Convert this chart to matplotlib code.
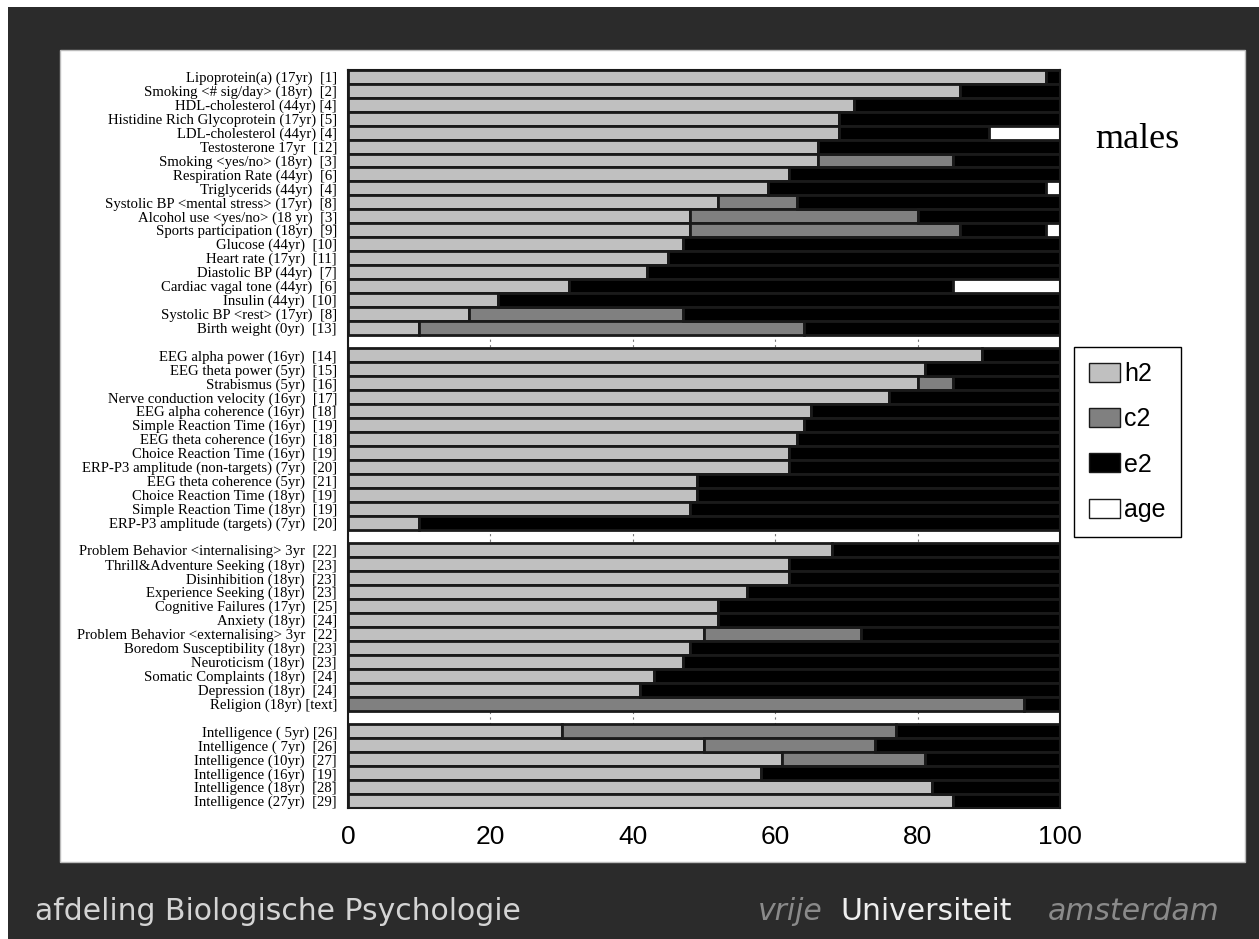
import matplotlib
matplotlib.use("Agg")
import matplotlib.pyplot as plt
from matplotlib.patches import Rectangle
import numpy as np

# ---------------- data ----------------
group1_labels = [
    "Lipoprotein(a) (17yr)  [1]", "Smoking <# sig/day> (18yr)  [2]", "HDL-cholesterol (44yr) [4]",
    "Histidine Rich Glycoprotein (17yr) [5]", "LDL-cholesterol (44yr) [4]", "Testosterone 17yr  [12]",
    "Smoking <yes/no> (18yr)  [3]", "Respiration Rate (44yr)  [6]", "Triglycerids (44yr)  [4]",
    "Systolic BP <mental stress> (17yr)  [8]", "Alcohol use <yes/no> (18 yr)  [3]",
    "Sports participation (18yr)  [9]", "Glucose (44yr)  [10]", "Heart rate (17yr)  [11]",
    "Diastolic BP (44yr)  [7]", "Cardiac vagal tone (44yr)  [6]", "Insulin (44yr)  [10]",
    "Systolic BP <rest> (17yr)  [8]", "Birth weight (0yr)  [13]",
]
group1_h2 = [98, 86, 71, 69, 69, 66, 66, 62, 59, 52, 48, 48, 47, 45, 42, 31, 21, 17, 10]
group1_c2 = [0, 0, 0, 0, 0, 0, 19, 0, 0, 11, 32, 38, 0, 0, 0, 0, 0, 30, 54]
group1_age = [0, 0, 0, 0, 10, 0, 0, 0, 2, 0, 0, 2, 0, 0, 0, 15, 0, 0, 0]

group2_labels = [
    "EEG alpha power (16yr)  [14]", "EEG theta power (5yr)  [15]", "Strabismus (5yr)  [16]",
    "Nerve conduction velocity (16yr)  [17]", "EEG alpha coherence (16yr)  [18]",
    "Simple Reaction Time (16yr)  [19]", "EEG theta coherence (16yr)  [18]",
    "Choice Reaction Time (16yr)  [19]", "ERP-P3 amplitude (non-targets) (7yr)  [20]",
    "EEG theta coherence (5yr)  [21]", "Choice Reaction Time (18yr)  [19]",
    "Simple Reaction Time (18yr)  [19]", "ERP-P3 amplitude (targets) (7yr)  [20]",
]
group2_h2 = [89, 81, 80, 76, 65, 64, 63, 62, 62, 49, 49, 48, 10]
group2_c2 = [0, 0, 5, 0, 0, 0, 0, 0, 0, 0, 0, 0, 0]
group2_age = [0] * 13

group3_labels = [
    "Problem Behavior <internalising> 3yr  [22]", "Thrill&Adventure Seeking (18yr)  [23]",
    "Disinhibition (18yr)  [23]", "Experience Seeking (18yr)  [23]",
    "Cognitive Failures (17yr)  [25]", "Anxiety (18yr)  [24]",
    "Problem Behavior <externalising> 3yr  [22]", "Boredom Susceptibility (18yr)  [23]",
    "Neuroticism (18yr)  [23]", "Somatic Complaints (18yr)  [24]",
    "Depression (18yr)  [24]", "Religion (18yr) [text]",
]
group3_h2 = [68, 62, 62, 56, 52, 52, 50, 48, 47, 43, 41, 0]
group3_c2 = [0, 0, 0, 0, 0, 0, 22, 0, 0, 0, 0, 95]
group3_age = [0] * 12

group4_labels = [
    "Intelligence ( 5yr) [26]", "Intelligence ( 7yr)  [26]", "Intelligence (10yr)  [27]",
    "Intelligence (16yr)  [19]", "Intelligence (18yr)  [28]", "Intelligence (27yr)  [29]",
]
group4_h2 = [30, 50, 61, 58, 82, 85]
group4_c2 = [47, 24, 20, 0, 0, 0]
group4_age = [0] * 6

xticks = [0, 20, 40, 60, 80, 100]
legend_labels = ["h2", "c2", "e2", "age"]
colors = ["#c0c0c0", "#808080", "black", "white"]

# ---------------- assemble rows (with a blank row between groups) ----------------
groups = [
    (group1_labels, group1_h2, group1_c2, group1_age),
    (group2_labels, group2_h2, group2_c2, group2_age),
    (group3_labels, group3_h2, group3_c2, group3_age),
    (group4_labels, group4_h2, group4_c2, group4_age),
]
pos, labels, h2, c2, age = [], [], [], [], []
row = 0
for gi, (lab, a, c, g) in enumerate(groups):
    for i in range(len(lab)):
        pos.append(row)
        labels.append(lab[i])
        h2.append(a[i]); c2.append(c[i]); age.append(g[i])
        row += 1
    if gi < len(groups) - 1:
        row += 1
nrows = row
pos = np.array(pos); h2 = np.array(h2, float); c2 = np.array(c2, float); age = np.array(age, float)
e2 = 100 - h2 - c2 - age

# ---------------- figure ----------------
W, H = 1259, 939
fig = plt.figure(figsize=(W / 100, H / 100), dpi=100, facecolor="#2b2b2b")

def fx(px): return px / W
def fy(py): return 1 - py / H

# white slide panel and scan border
fig.patches.append(Rectangle((fx(60), fy(862)), fx(1245) - fx(60), fy(50) - fy(862),
                             transform=fig.transFigure, facecolor="white", edgecolor="#bbbbbb",
                             lw=1, zorder=-5))
fig.patches.append(Rectangle((0, fy(7)), 1, 1 - fy(7), transform=fig.transFigure,
                             facecolor="white", edgecolor="none", zorder=-5))
fig.patches.append(Rectangle((0, 0), fx(8), 1, transform=fig.transFigure,
                             facecolor="white", edgecolor="none", zorder=-5))

ax = fig.add_axes([fx(348), fy(808), fx(1060) - fx(348), fy(70) - fy(808)])
ax.set_zorder(2)
ax.set_facecolor("white")

segments = [h2, c2, e2, age]
lefts = [np.zeros_like(h2), h2, h2 + c2, h2 + c2 + e2]
handles = []
for vals, lft, col, lab in zip(segments, lefts, colors, legend_labels):
    m = vals > 0
    bc = ax.barh(pos[m], vals[m], left=lft[m], height=1.0, color=col,
                 edgecolor="#1a1a1a", linewidth=2.0, label=lab)
    handles.append(bc)

ax.set_xlim(0, 100)
ax.set_ylim(nrows - 0.5, -0.5)
ax.set_xticks(xticks)
ax.set_xticklabels([str(t) for t in xticks], fontsize=19, family="Liberation Sans")
ax.set_yticks(pos)
ax.set_yticklabels(labels, fontsize=10.6, family="Liberation Serif")
ax.tick_params(axis="x", length=0, pad=12)
ax.tick_params(axis="y", length=0, pad=8)
ax.set_axisbelow(True)
ax.grid(axis="x", linestyle=(0, (2, 3)), color="#777777", linewidth=0.8)
for s in ax.spines.values():
    s.set_color("#1a1a1a"); s.set_linewidth(1.5)

fig.text(fx(1137), fy(140), "males", fontsize=26, family="Liberation Serif",
         ha="center", va="center", color="black")

leg = fig.legend(handles, legend_labels, loc="upper left",
                 bbox_to_anchor=(fx(1074), fy(347)), bbox_transform=fig.transFigure,
                 prop={"family": "Liberation Sans", "size": 18}, frameon=True, fancybox=False,
                 edgecolor="black", framealpha=1, handlelength=1.25, handleheight=0.8,
                 handletextpad=0.15, labelspacing=0.85, borderpad=0.6, borderaxespad=0)
leg.get_frame().set_linewidth(1.0)
for p in leg.get_patches():
    p.set_linewidth(1.0)

foot = ["DejaVu Sans"]
fig.text(fx(35), fy(912), "afdeling Biologische Psychologie", fontsize=21.5, family=foot,
         color="#d4d4d4", ha="left", va="center")
fig.text(fx(823), fy(912), "vrije", fontsize=21.5, family=foot, style="italic",
         color="#8a8a8a", ha="right", va="center")
fig.text(fx(840), fy(912), "Universiteit", fontsize=21.5, family=foot,
         color="#eeeeee", ha="left", va="center")
fig.text(fx(1220), fy(912), "amsterdam", fontsize=21.5, family=foot, style="italic",
         color="#8a8a8a", ha="right", va="center")

fig.savefig("out.png", dpi=100, facecolor=fig.get_facecolor())
